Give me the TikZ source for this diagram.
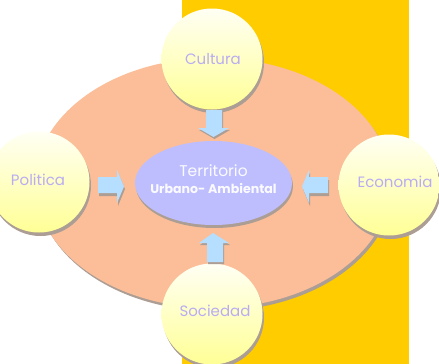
\documentclass[tikz,border=0pt]{standalone}
\usepackage{fontspec}
\setmainfont{Poppins}
\usetikzlibrary{shapes.geometric}
\begin{document}
\begin{tikzpicture}[x=1pt,y=-1pt,
  shadowcol/.style={fill=shadowgrey},
  ballshade/.style={top color=ballTop, bottom color=ballBot, shading angle=0},
  balltext/.style={font=\fontsize{15}{17}\selectfont, text=txtLav},
  blockarrow/.style={fill=arrowBlue},
  arrowshadow/.style={fill=shadowgrey}]
\definecolor{goldY}{RGB}{255,204,0}
\definecolor{salmon}{RGB}{251,190,152}
\definecolor{lavender}{RGB}{190,190,255}
\definecolor{arrowBlue}{RGB}{182,222,255}
\definecolor{txtLav}{RGB}{185,172,242}
\definecolor{ballTop}{RGB}{255,255,244}
\definecolor{ballBot}{RGB}{255,255,150}
\definecolor{shadowgrey}{RGB}{172,158,148}
\useasboundingbox (0,0) rectangle (439,364);
\clip (0,0) rectangle (439,364);
% background gold band
\fill[goldY] (182,0) rectangle (409,364);
% big ellipse
\fill[shadowcol] (215,186) ellipse [x radius=178, y radius=125];
\fill[salmon] (213,183) ellipse [x radius=178, y radius=125];
% central ellipse
\fill[shadowcol] (214.5,186) ellipse [x radius=78.5, y radius=42];
\node[ellipse, minimum width=157, minimum height=84, fill=lavender, inner sep=0, draw=none] (terr) at (213.5,183) {};
\node[font=\fontsize{15.5}{17}\selectfont, text=white!92!lavender] (terr1) at (213.5,171) {Territorio};
\node[font=\bfseries\fontsize{12.6}{14}\selectfont, text=white!92!lavender] (terr2) at (213.5,189) {Urbano- Ambiental};
% outer balls
\foreach \nm/\cx/\cy in {cul/212/59, pol/39/182, eco/389/185, soc/212/314}{
  \fill[shadowcol] (\cx+1.5,\cy+3.5) circle (50.5);
  \shade[ballshade] (\cx,\cy) circle (50.5);
}
\node[balltext] (cul) at (213,59) {Cultura};
\node[balltext] (pol) at (38,180) {Politica};
\node[balltext] (eco) at (395,182) {Economia};
\node[balltext] (soc) at (215,311) {Sociedad};
% block arrows: top (down)
\fill[arrowshadow] (207,112) -- (223,112) -- (223,130) -- (230,130) -- (214.5,139) -- (199,130) -- (207,130) -- cycle;
\fill[blockarrow] (206,110) -- (222,110) -- (222,128) -- (229,128) -- (213.5,137) -- (198,128) -- (206,128) -- cycle;
% bottom (up)
\fill[arrowshadow] (208,264) -- (224,264) -- (224,245) -- (230,245) -- (214,235) -- (200,245) -- (208,245) -- cycle;
\fill[blockarrow] (207,262) -- (223,262) -- (223,243) -- (229,243) -- (213,233) -- (199,243) -- (207,243) -- cycle;
% left (right-pointing)
\fill[arrowshadow] (99,180) -- (118,180) -- (118,173) -- (125,189) -- (118,206) -- (118,196) -- (99,196) -- cycle;
\fill[blockarrow] (98,177) -- (117,177) -- (117,170) -- (124,186.5) -- (117,203) -- (117,193) -- (98,193) -- cycle;
% right (left-pointing)
\fill[arrowshadow] (329,180) -- (310,180) -- (310,173) -- (303,189) -- (310,206) -- (310,196) -- (329,196) -- cycle;
\fill[blockarrow] (328,177) -- (309,177) -- (309,170) -- (302,186.5) -- (309,203) -- (309,193) -- (328,193) -- cycle;
\end{tikzpicture}
\end{document}
